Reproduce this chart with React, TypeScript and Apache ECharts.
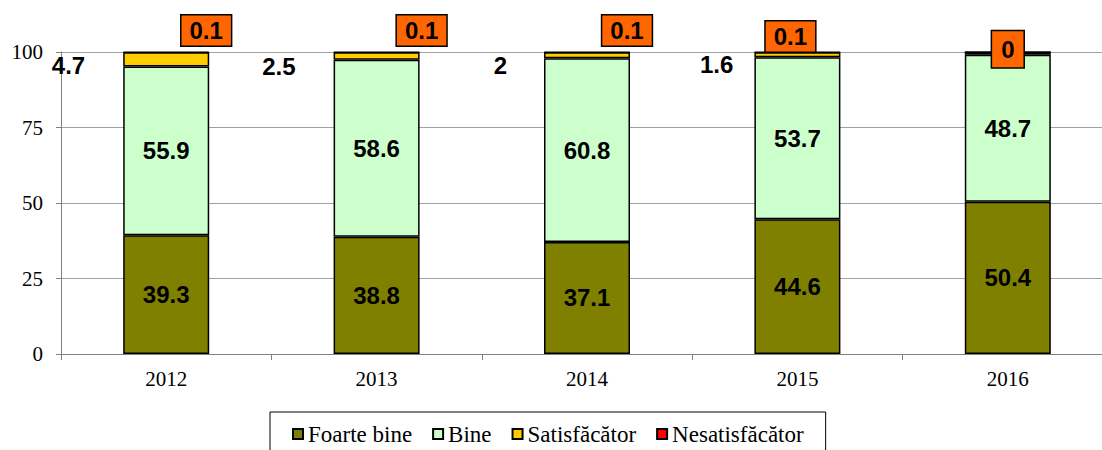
import React, { useEffect, useRef } from "react";
import * as echarts from "echarts";

const years = ["2012", "2013", "2014", "2015", "2016"];
const foarteBine = [39.3, 38.8, 37.1, 44.6, 50.4];
const bine = [55.9, 58.6, 60.8, 53.7, 48.7];
const satisfacator = [4.7, 2.5, 2, 1.6, 0.9];
const nesatisfacator = [0.1, 0.1, 0.1, 0.1, 0];
const satisfShowLabel = [true, true, true, true, false];
const satisfOffsets = [[-33, 6], [-33, 10], [-32, 10], [-16, 10], [0, 0]];
const nesatOffsets = [[40, -1], [45, -1], [40, -1], [-7, 5], [0, 21]];
const nesatPadding = [[3, 8, 2, 8], [3, 8, 2, 8], [3, 8, 2, 8], [3, 8, 2, 8], [6, 9, 5, 9]];

const valueFont = { fontFamily: "'Liberation Sans', Arial, sans-serif", fontWeight: "bold", fontSize: 24, color: "#000" };
const serif = "'Liberation Serif', 'Times New Roman', serif";
const barBorder = { borderColor: "#000", borderWidth: 1.5 };

export default function App() {
  const ref = useRef<HTMLDivElement>(null);
  useEffect(() => {
    if (!ref.current) return;
    const chart = echarts.init(ref.current, undefined, { renderer: "svg" });
    chart.setOption({
      animation: false,
      backgroundColor: "#fff",
      grid: { left: 61, top: 52, height: 302, width: 1052 },
      legend: {
        left: 270,
        top: 412,
        padding: [10, 22, 20, 22],
        borderColor: "#000",
        borderWidth: 1,
        itemWidth: 10,
        itemHeight: 10,
        itemGap: 20,
        icon: "rect",
        textStyle: { fontFamily: serif, fontSize: 23, color: "#000", lineHeight: 24 },
        data: ["Foarte bine", "Bine", "Satisfăcător", "Nesatisfăcător"],
      },
      xAxis: {
        type: "category",
        data: years,
        axisLine: { lineStyle: { color: "#808080", width: 1 } },
        axisTick: { show: true, length: 6, alignWithLabel: false, lineStyle: { color: "#808080" } },
        axisLabel: { fontFamily: serif, fontSize: 21, color: "#000", margin: 14 },
      },
      yAxis: {
        type: "value",
        min: 0,
        max: 100,
        interval: 25,
        axisLine: { show: true, lineStyle: { color: "#808080", width: 1 } },
        axisTick: { show: true, length: 5, lineStyle: { color: "#808080" } },
        axisLabel: { fontFamily: serif, fontSize: 21, color: "#000", margin: 18 },
        splitLine: { show: true, lineStyle: { color: "#a0a0a0", width: 1 } },
      },
      series: [
        {
          name: "Foarte bine",
          type: "bar",
          stack: "s",
          barWidth: 86,
          itemStyle: { color: "#808000", ...barBorder },
          label: { show: true, position: "inside", ...valueFont },
          data: foarteBine,
        },
        {
          name: "Bine",
          type: "bar",
          stack: "s",
          barWidth: 86,
          itemStyle: { color: "#CCFFCC", ...barBorder },
          label: { show: true, position: "inside", ...valueFont },
          data: bine,
        },
        {
          name: "Satisfăcător",
          type: "bar",
          stack: "s",
          barWidth: 86,
          itemStyle: { color: "#FFCC00", ...barBorder },
          label: { show: true, position: "left", distance: 5, ...valueFont },
          data: satisfacator.map((v, i) => ({
            value: v,
            label: { show: satisfShowLabel[i], offset: satisfOffsets[i] },
          })),
        },
        {
          name: "Nesatisfăcător",
          type: "bar",
          stack: "s",
          barWidth: 86,
          itemStyle: { color: "#FF0000", ...barBorder },
          label: {
            show: true,
            position: "top",
            distance: 5,
            ...valueFont,
            lineHeight: 25,
            backgroundColor: "#FF6600",
            borderColor: "#000",
            borderWidth: 1.5,
          },
          data: nesatisfacator.map((v, i) => ({
            value: v,
            label: { offset: nesatOffsets[i], padding: nesatPadding[i] },
          })),
        },
      ],
    });
    return () => chart.dispose();
  }, []);
  return (
    <div style={{ position: "absolute", left: 0, top: 0, width: 1102, height: 450, overflow: "hidden" }}>
      <div ref={ref} style={{ width: 1120, height: 450 }} />
    </div>
  );
}
